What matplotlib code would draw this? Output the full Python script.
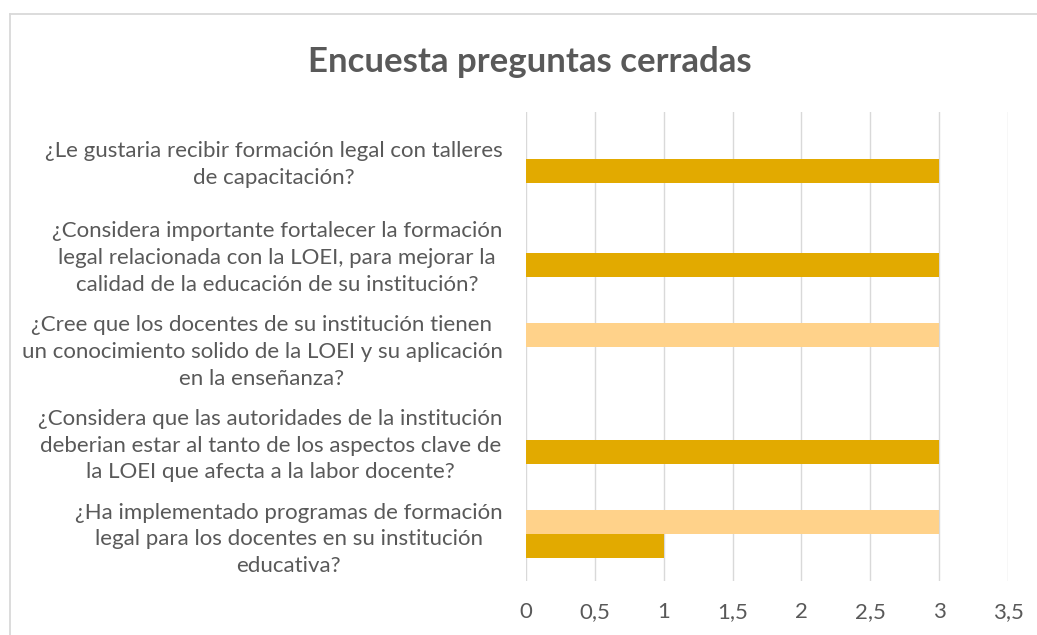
import matplotlib.pyplot as plt
from matplotlib.lines import Line2D
import numpy as np

# --- datos (de abajo hacia arriba) ---
preguntas = [
    "¿Ha implementado programas de formación\nlegal para los docentes en su institución\neducativa?",
    "¿Considera que las autoridades de la institución\ndeberian estar al tanto de los aspectos clave de\nla LOEI que afecta a la labor docente?",
    "¿Cree que los docentes de su institución tienen\nun conocimiento solido de la LOEI y su aplicación\nen la enseñanza?",
    "¿Considera importante fortalecer la formación\nlegal relacionada con la LOEI, para mejorar la\ncalidad de la educación de su institución?",
    "¿Le gustaria recibir formación legal con talleres\nde capacitación?",
]
serie_1 = [1, 3, 0, 3, 3]   # dorado oscuro
serie_2 = [3, 0, 3, 0, 0]   # dorado claro
ticks_x = [0, 0.5, 1, 1.5, 2, 2.5, 3, 3.5]
etiquetas_x = ["0", "0,5", "1", "1,5", "2", "2,5", "3", "3,5"]

plt.rcParams['font.family'] = ['Lato', 'DejaVu Sans']
gris = '#595959'

W, H = 1037, 635
fig = plt.figure(figsize=(W / 100, H / 100), dpi=100)

# marco del gráfico (solo se ve arriba e izquierda)
borde = dict(color='#D9D9D9', lw=1.3, transform=fig.transFigure)
fig.add_artist(Line2D([10 / W, 1.0], [1 - 14 / H, 1 - 14 / H], **borde))
fig.add_artist(Line2D([10 / W, 10 / W], [0.0, 1 - 14 / H], **borde))

ax = fig.add_axes([526 / W, (H - 581) / H, (1008 - 526) / W, (581 - 112) / H])

y = np.arange(len(preguntas))
h = 0.255
ax.barh(y - h / 2, serie_1, height=h, color='#E2AA00', zorder=2)
ax.barh(y + h / 2, serie_2, height=h, color='#FFD28A', zorder=2)

ax.set_xlim(0, 3.5)
ax.set_ylim(-0.5, len(preguntas) - 0.5)
ax.set_xticks(ticks_x)
ax.set_xticklabels(etiquetas_x)
ax.set_yticks(y)
ax.set_yticklabels(preguntas, ha='right', multialignment='center', linespacing=1.42)

ax.grid(axis='x', color='#D9D9D9', lw=1.0, zorder=0)
ax.set_axisbelow(True)
for s in ax.spines.values():
    s.set_visible(False)
ax.tick_params(axis='both', length=0, colors=gris, labelsize=16)
ax.tick_params(axis='x', pad=15)
ax.tick_params(axis='y', pad=17)

fig.text(530 / W, 1 - 62 / H, "Encuesta preguntas cerradas", ha='center', va='center',
         fontsize=25, fontweight='bold', color=gris)

fig.savefig('out.png', dpi=100)
